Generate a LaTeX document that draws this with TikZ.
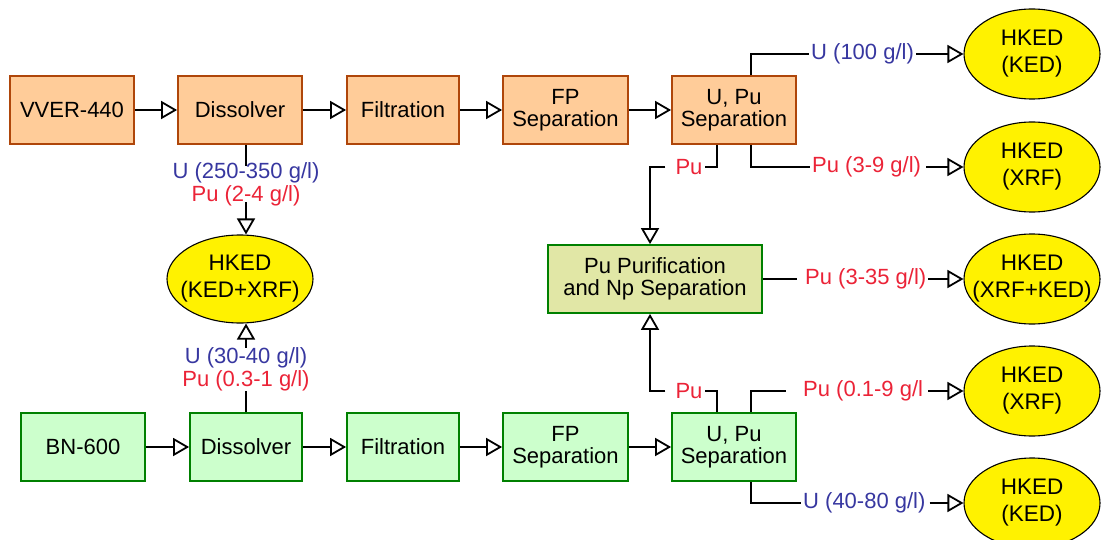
\documentclass[tikz,border=0pt]{standalone}
\usepackage{fontspec}
\setmainfont{Liberation Sans}
\usetikzlibrary{arrows.meta,shapes.geometric}

\definecolor{orfill}{RGB}{255,204,153}
\definecolor{ordraw}{RGB}{175,70,10}
\definecolor{grfill}{RGB}{204,255,204}
\definecolor{grdraw}{RGB}{0,128,0}
\definecolor{pufill}{RGB}{225,231,166}
\definecolor{ublue}{RGB}{55,55,160}
\definecolor{pred}{RGB}{235,35,55}

\newcommand\twol[2]{\makebox[0pt]{#1}\\\makebox[0pt]{#2}}

\tikzset{
 base/.style={font=\fontsize{22}{21.5}\selectfont, align=center, inner sep=0pt},
 obox/.style={base, draw=ordraw, fill=orfill, line width=1.8pt, minimum height=68pt},
 gbox/.style={base, draw=grdraw, fill=grfill, line width=1.8pt, minimum height=68pt},
 pbox/.style={base, draw=grdraw, fill=pufill, line width=1.8pt, minimum height=68pt, minimum width=214pt},
 hked/.style={base, font=\fontsize{22.5}{27}\selectfont, ellipse, draw=black, fill=yellow, line width=1.1pt, minimum width=136pt, minimum height=90pt},
 conn/.style={line width=2.6pt, black},
 arr/.style={conn, -{Triangle[open, fill=white, length=16pt, width=18pt, line width=1.8pt]}},
 ulab/.style={base, text=ublue, inner sep=2pt},
 plab/.style={base, text=pred, inner sep=2pt},
}

\begin{document}
\begin{tikzpicture}[x=1pt,y=-1pt]
\useasboundingbox (0,0) rectangle (1102,540);

% top row
\node[obox, minimum width=124pt] (vver) at (72,110) {VVER-440};
\node[obox, minimum width=124pt] (dis1) at (240,110) {Dissolver};
\node[obox, minimum width=112pt] (fil1) at (403,110) {Filtration};
\node[obox, minimum width=125pt] (fp1) at (565.5,110) {FP\\Separation};
\node[obox, minimum width=124pt] (sep1) at (734,110) {U, Pu\\Separation};

% bottom row
\node[gbox, minimum width=124pt] (bn) at (83,447) {BN-600};
\node[gbox, minimum width=112pt] (dis2) at (246,447) {Dissolver};
\node[gbox, minimum width=112pt] (fil2) at (403,447) {Filtration};
\node[gbox, minimum width=125pt] (fp2) at (565.5,447) {FP\\Separation};
\node[gbox, minimum width=124pt] (sep2) at (734,447) {U, Pu\\Separation};

% purification
\node[pbox] (pur) at (655,279) {Pu Purification\\and Np Separation};

% HKED ellipses
\node[hked] (h1) at (1032,54) {\twol{HKED}{(KED)}};
\node[hked] (h2) at (1032,167) {\twol{HKED}{(XRF)}};
\node[hked] (h3) at (1032,279) {\twol{HKED}{(XRF+KED)}};
\node[hked] (h4) at (1032,391) {\twol{HKED}{(XRF)}};
\node[hked] (h5) at (1032,503) {\twol{HKED}{(KED)}};
\node[hked, minimum width=146pt, minimum height=88pt] (h0) at (240,279) {\twol{HKED}{(KED+XRF)}};

% row connectors
\draw[arr] (vver.east) -- (dis1.west);
\draw[arr] (dis1.east) -- (fil1.west);
\draw[arr] (fil1.east) -- (fp1.west);
\draw[arr] (fp1.east) -- (sep1.west);
\draw[arr] (bn.east) -- (dis2.west);
\draw[arr] (dis2.east) -- (fil2.west);
\draw[arr] (fil2.east) -- (fp2.west);
\draw[arr] (fp2.east) -- (sep2.west);

% left dissolver samples
\node[ulab, inner sep=0pt] (l1u) at (246,173) {U (250-350 g/l)};
\node[plab, inner sep=0pt] (l1p) at (246,196) {Pu (2-4 g/l)};
\draw[conn] (dis1.south -| l1u.north) -- ([yshift=-3pt]l1u.north);
\draw[arr] ([yshift=4pt]l1p.south) -- (h0.north -| l1p.south);

\node[ulab, inner sep=0pt] (l2u) at (246,358) {U (30-40 g/l)};
\node[plab, inner sep=0pt] (l2p) at (246,381) {Pu (0.3-1 g/l)};
\draw[conn] (dis2.north) -- (l2p.south);
\draw[arr] (l2u.north) -- (h0.south -| l2u.north);

% top U,Pu separation outputs
\node[ulab, anchor=west] (lU100) at (809,54) {U (100 g/l)};
\draw[conn] ([xshift=17pt]sep1.north) |- (lU100.west);
\draw[arr] (lU100.east) -- (h1.west);

\node[plab, anchor=west] (l39) at (810,167) {Pu (3-9 g/l)};
\draw[conn] ([xshift=17pt]sep1.south) |- (l39.west);
\draw[arr] ([xshift=3pt]l39.east) -- (h2.west);

\node[plab] (pT) at (689,167) {Pu};
\draw[conn] ([xshift=-17pt]sep1.south) |- (pT.east);
\draw[arr] ([xshift=-8pt]pT.west) -| ([xshift=-5pt]pur.north);

% purification output
\node[plab, anchor=west] (l335) at (803,279) {Pu (3-35 g/l)};
\draw[conn] (pur.east) -- ([xshift=-6pt]l335.west);
\draw[arr] (l335.east) -- (h3.west);

% bottom U,Pu separation outputs
\node[plab] (pB) at (689,391) {Pu};
\draw[conn] ([xshift=-17pt]sep2.north) |- (pB.east);
\draw[arr] ([xshift=-8pt]pB.west) -| ([xshift=-5pt]pur.south);

\node[plab, anchor=west] (l019) at (801,391) {Pu (0.1-9 g/l};
\draw[conn] ([xshift=17pt]sep2.north) |- ([xshift=-15pt]l019.west);
\draw[arr] ([xshift=3pt]l019.east) -- (h4.west);

\node[ulab, anchor=west] (l4080) at (801,503) {U (40-80 g/l)};
\draw[conn] ([xshift=17pt]sep2.south) |- (l4080.west);
\draw[arr] ([xshift=2pt]l4080.east) -- (h5.west);
\end{tikzpicture}
\end{document}
